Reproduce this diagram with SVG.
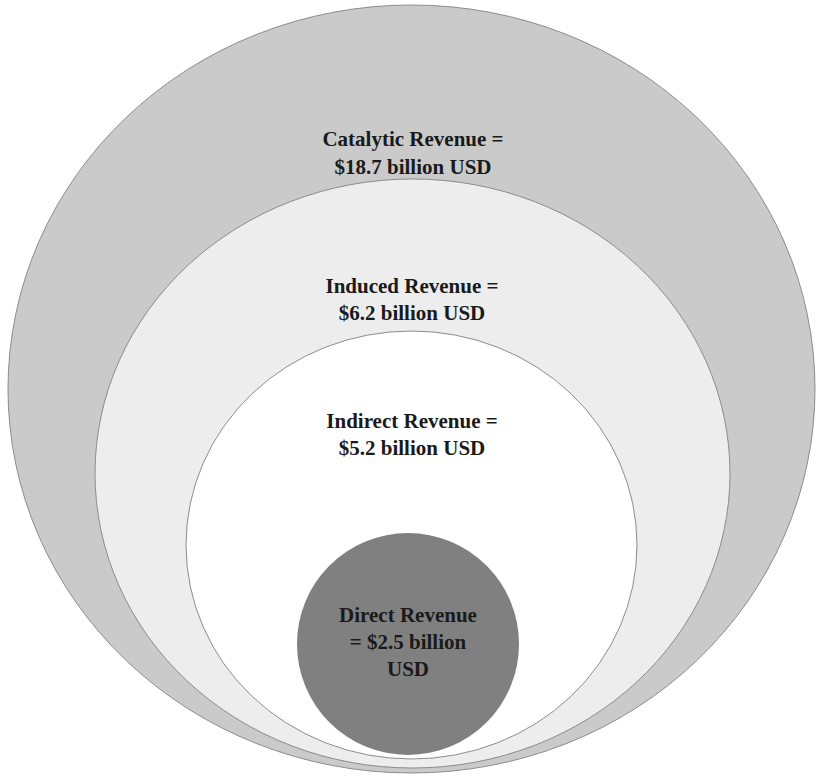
<svg xmlns="http://www.w3.org/2000/svg" width="817" height="779" viewBox="0 0 817 779">
<style>
.ring{stroke:#8c8c8c;stroke-width:1}
.t{font-family:"Liberation Serif","Times New Roman",serif;font-weight:bold;font-size:21px;fill:#1a1a1a;text-anchor:middle}
</style>
<rect width="817" height="779" fill="#ffffff"/>
<g id="catalytic">
<ellipse class="ring" cx="411.5" cy="389" rx="403.5" ry="384" fill="#cacaca"/>
<text class="t" x="413" y="146">Catalytic  Revenue =</text>
<text class="t" x="413" y="174">$18.7 billion USD</text>
</g>
<g id="induced">
<ellipse class="ring" cx="412.5" cy="473.5" rx="317.5" ry="294.5" fill="#ededed"/>
<text class="t" x="412" y="293">Induced Revenue =</text>
<text class="t" x="412" y="320">$6.2 billion USD</text>
</g>
<g id="indirect">
<ellipse class="ring" cx="411.5" cy="545" rx="225.5" ry="214" fill="#ffffff"/>
<text class="t" x="412" y="428">Indirect Revenue =</text>
<text class="t" x="412" y="455">$5.2 billion USD</text>
</g>
<g id="direct">
<circle cx="408" cy="644" r="111" fill="#808080"/>
<text class="t" x="408" y="622">Direct Revenue</text>
<text class="t" x="408" y="649">= $2.5 billion</text>
<text class="t" x="408" y="676">USD</text>
</g>
<g id="connectors"></g>
</svg>
